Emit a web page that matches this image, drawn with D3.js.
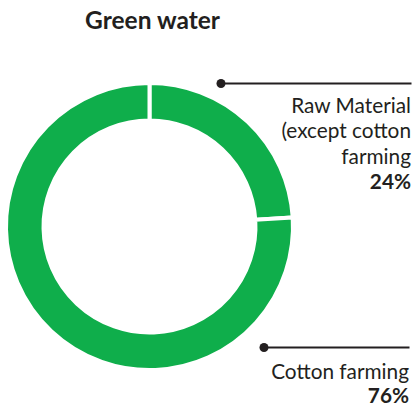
<!DOCTYPE html>
<html><head><meta charset="utf-8">
<script src="https://cdn.jsdelivr.net/npm/d3@7"></script>
<style>body{margin:0;background:#fff}svg{display:block}text{font-family:Lato,"Open Sans",sans-serif;fill:#231f20}</style>
</head><body><svg id="c" width="419" height="407"></svg>
<script>
const title = "Green water";
const categories = ["Raw Material (except cotton farming", "Cotton farming"];
const values = [24, 76];
const labelLines = [["Raw Material", "(except cotton", "farming"], ["Cotton farming"]];
const pctLabels = ["24%", "76%"];

const svg = d3.select("#c");
const cx = 149.5, cy = 226.5, rOuter = 143.5, rInner = 106;
svg.append("text").attr("x", 152.5).attr("y", 28.5).attr("text-anchor", "middle")
  .style("font-size", "24.5px").style("font-weight", "700").text(title);

const pie = d3.pie().sort(null).value(d => d)(values);
const arc = d3.arc().innerRadius(rInner).outerRadius(rOuter);
svg.append("g").attr("transform", `translate(${cx},${cy})`)
  .selectAll("path").data(pie).join("path")
  .attr("d", arc).attr("fill", "#0fae4b").attr("stroke", "#fff").attr("stroke-width", 4);

const layout = [
  {dotX: 221, lineY: 83.5, endX: 411.5, textX: 411, firstBase: 113, step: 25.3},
  {dotX: 264, lineY: 347.5, endX: 409.5, textX: 409, firstBase: 379, step: 23.5}
];
categories.forEach((c, i) => {
  const L = layout[i];
  const g = svg.append("g");
  g.append("line").attr("x1", L.dotX).attr("x2", L.endX).attr("y1", L.lineY).attr("y2", L.lineY)
    .attr("stroke", "#231f20").attr("stroke-width", 2);
  g.append("circle").attr("cx", L.dotX).attr("cy", L.lineY).attr("r", 4.5).attr("fill", "#231f20");
  const lines = labelLines[i];
  lines.forEach((t, j) => {
    g.append("text").attr("x", L.textX).attr("y", L.firstBase + j * L.step).attr("text-anchor", "end")
      .style("font-size", "20.8px").text(t);
  });
  g.append("text").attr("x", L.textX).attr("y", L.firstBase + lines.length * L.step).attr("text-anchor", "end")
    .style("font-size", "20.8px").style("font-weight", "700").text(pctLabels[i]);
});
</script></body></html>
